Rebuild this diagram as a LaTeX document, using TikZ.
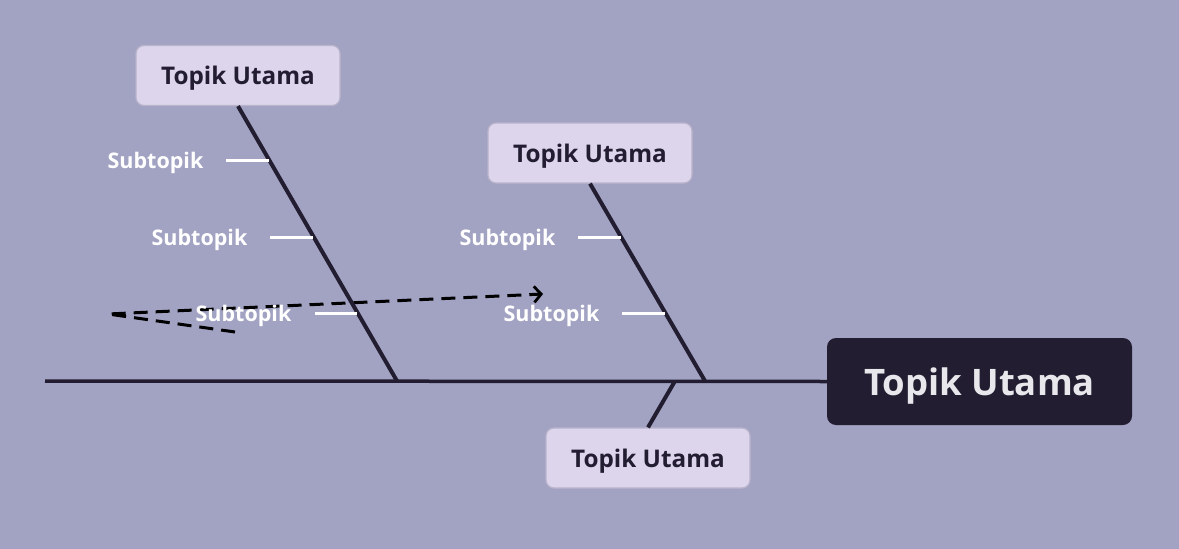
\documentclass[tikz,border=0pt]{standalone}
\usepackage{fontspec}
\setmainfont{Open Sans}
\usetikzlibrary{arrows.meta}
\definecolor{bg}{HTML}{A2A2C3}
\definecolor{ink}{HTML}{221D30}
\definecolor{boxfill}{HTML}{DDD5EC}
\definecolor{boxline}{HTML}{B9B3CB}
\definecolor{maintext}{HTML}{E8E8EC}
\tikzset{
  topic/.style={draw=boxline, line width=1.2pt, fill=boxfill, rounded corners=8pt,
    minimum width=204pt, minimum height=60pt, inner sep=0pt, text=ink, text depth=0pt,
    font=\fontsize{24.3}{27}\selectfont\bfseries},
  maintopic/.style={fill=ink, rounded corners=9pt, minimum width=305pt,
    minimum height=87pt, inner sep=0pt, text=maintext, text depth=0pt,
    font=\fontsize{36.5}{40}\selectfont\bfseries},
  sub/.style={text=white, inner sep=0pt, text depth=0pt, font=\fontsize{21.5}{24}\selectfont\bfseries},
  bone/.style={draw=ink, line width=4pt},
  spine/.style={draw=ink, line width=3.5pt},
  tick/.style={draw=white, line width=3pt},
  flow/.style={draw=black, line width=3pt, dash pattern=on 14pt off 8pt,
    -{Straight Barb[length=7pt,width=16pt,line width=2.8pt]}}
}
\begin{document}
\begin{tikzpicture}[x=1pt,y=-1pt]
\useasboundingbox[fill=bg] (0,0) rectangle (1179,549);
% dashed arrow (behind the texts)
\coordinate (d0) at (235,332);
\coordinate (d1) at (108,314);
\coordinate (d2) at (543,294);
\draw[flow] (d0) -- (d1) -- (d2);
% nodes
\node[maintopic] (main) at (979.5,381.5) {Topik Utama};
\node[topic] (t1) at (238,75.5) {Topik Utama};
\node[topic] (t2) at (590,153) {Topik Utama};
\node[topic] (t3) at (648,458) {Topik Utama};
% spine
\coordinate (tail) at (45,381);
\coordinate (j1) at (397,381);
\coordinate (j2) at (705,381);
\coordinate (j3) at (675,381);
\draw[spine] (tail) -- (main.west);
\draw[bone] (t1.south) -- (j1);
\draw[bone] (t2.south) -- (j2);
\draw[bone] (t3.north) -- (j3);
% subtopics of t1
\node[sub] (s1) at (155.5,160) {Subtopik};
\node[sub] (s2) at (199.5,237) {Subtopik};
\node[sub] (s3) at (243.5,313) {Subtopik};
\coordinate (s1a) at (226,160); \coordinate (s1b) at (269,160);
\coordinate (s2a) at (270,237); \coordinate (s2b) at (313,237);
\coordinate (s3a) at (315,313); \coordinate (s3b) at (357,313);
\draw[tick] (s1a) -- (s1b);
\draw[tick] (s2a) -- (s2b);
\draw[tick] (s3a) -- (s3b);
% subtopics of t2
\node[sub] (s4) at (507.5,237) {Subtopik};
\node[sub] (s5) at (551.5,313) {Subtopik};
\coordinate (s4a) at (578,237); \coordinate (s4b) at (621,237);
\coordinate (s5a) at (622,313); \coordinate (s5b) at (665,313);
\draw[tick] (s4a) -- (s4b);
\draw[tick] (s5a) -- (s5b);
\end{tikzpicture}
\end{document}
